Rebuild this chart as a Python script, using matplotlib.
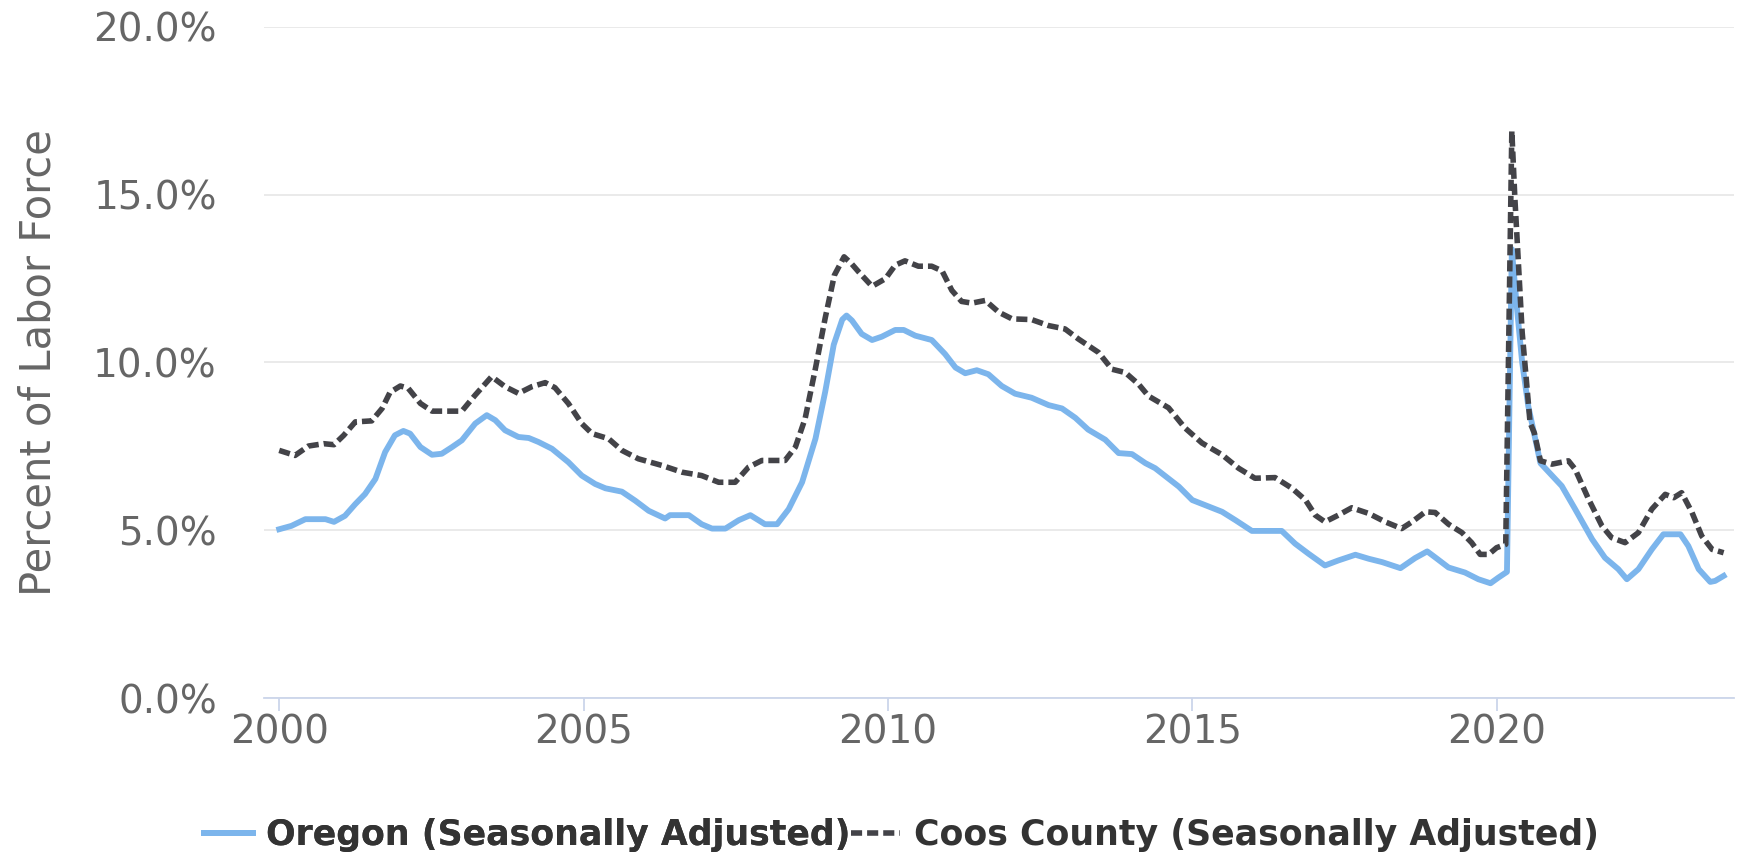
import numpy as np
import matplotlib.pyplot as plt
from matplotlib.ticker import FuncFormatter

# Oregon (seasonally adjusted)
or_year = [2000.0, 2000.2, 2000.43, 2000.76, 2000.9, 2001.08, 2001.25, 2001.41, 2001.58, 2001.74,
           2001.9, 2002.04, 2002.15, 2002.32, 2002.51, 2002.67, 2002.84, 2003.0, 2003.22, 2003.41,
           2003.55, 2003.71, 2003.93, 2004.1, 2004.26, 2004.48, 2004.75, 2004.97, 2005.19, 2005.36,
           2005.63, 2005.85, 2006.07, 2006.34, 2006.42, 2006.73, 2006.94, 2007.11, 2007.33, 2007.55,
           2007.74, 2007.98, 2008.18, 2008.37, 2008.59, 2008.81, 2008.97, 2009.11, 2009.25, 2009.32,
           2009.41, 2009.57, 2009.74, 2009.9, 2010.12, 2010.26, 2010.45, 2010.72, 2010.94, 2011.11,
           2011.27, 2011.46, 2011.65, 2011.87, 2012.09, 2012.36, 2012.64, 2012.86, 2013.08, 2013.29,
           2013.57, 2013.79, 2014.01, 2014.23, 2014.39, 2014.78, 2015.0, 2015.21, 2015.49, 2015.71,
           2015.98, 2016.47, 2016.69, 2016.91, 2017.18, 2017.4, 2017.68, 2017.9, 2018.12, 2018.42,
           2018.66, 2018.86, 2019.0, 2019.21, 2019.48, 2019.7, 2019.9, 2020.03, 2020.17, 2020.25,
           2020.33, 2020.42, 2020.52, 2020.72, 2021.07, 2021.29, 2021.57, 2021.78, 2022.0, 2022.14,
           2022.33, 2022.55, 2022.74, 2023.02, 2023.15, 2023.32, 2023.51, 2023.59, 2023.73]
or_rate = [5.03, 5.13, 5.33, 5.33, 5.25, 5.43, 5.78, 6.08, 6.53, 7.33,
           7.83, 7.96, 7.88, 7.48, 7.25, 7.28, 7.48, 7.68, 8.18, 8.43,
           8.28, 7.98, 7.78, 7.75, 7.63, 7.43, 7.03, 6.63, 6.38, 6.25,
           6.15, 5.88, 5.58, 5.35, 5.45, 5.45, 5.18, 5.05, 5.05, 5.3,
           5.45, 5.18, 5.18, 5.63, 6.43, 7.73, 9.13, 10.53, 11.28, 11.4,
           11.25, 10.85, 10.67, 10.77, 10.97, 10.97, 10.8, 10.67, 10.25, 9.85,
           9.68, 9.77, 9.65, 9.3, 9.07, 8.95, 8.73, 8.63, 8.35, 8.0,
           7.7, 7.3, 7.27, 7.0, 6.85, 6.3, 5.9, 5.75, 5.55, 5.3,
           4.98, 4.98, 4.6, 4.3, 3.95, 4.1, 4.27, 4.15, 4.05, 3.87,
           4.17, 4.37, 4.18, 3.89, 3.74, 3.54, 3.42, 3.59, 3.76, 13.38,
           11.7, 10.0, 8.7, 7.0, 6.32, 5.63, 4.73, 4.18, 3.84, 3.54,
           3.84, 4.43, 4.88, 4.88, 4.53, 3.84, 3.46, 3.49, 3.64]

# Coos County (seasonally adjusted)
coos_year = [2000.0, 2000.26, 2000.48, 2000.73, 2000.9, 2001.06, 2001.25, 2001.52, 2001.69, 2001.82,
             2001.99, 2002.12, 2002.32, 2002.51, 2003.0, 2003.22, 2003.49, 2003.71, 2003.93, 2004.15,
             2004.37, 2004.53, 2004.75, 2004.97, 2005.14, 2005.41, 2005.63, 2005.9, 2006.29, 2006.62,
             2006.94, 2007.22, 2007.49, 2007.71, 2007.93, 2008.31, 2008.48, 2008.64, 2008.81, 2008.97,
             2009.12, 2009.28, 2009.4, 2009.52, 2009.74, 2009.96, 2010.12, 2010.28, 2010.5, 2010.72,
             2010.89, 2011.05, 2011.21, 2011.38, 2011.6, 2011.82, 2012.04, 2012.36, 2012.64, 2012.91,
             2013.13, 2013.46, 2013.68, 2013.9, 2014.12, 2014.28, 2014.61, 2014.88, 2015.16, 2015.49,
             2015.76, 2016.03, 2016.36, 2016.64, 2016.86, 2017.02, 2017.18, 2017.4, 2017.62, 2017.9,
             2018.17, 2018.44, 2018.61, 2018.83, 2018.99, 2019.21, 2019.43, 2019.59, 2019.73, 2019.87,
             2020.0, 2020.15, 2020.25, 2020.3, 2020.42, 2020.55, 2020.62, 2020.72, 2020.91, 2021.18,
             2021.29, 2021.51, 2021.73, 2021.89, 2022.11, 2022.33, 2022.55, 2022.77, 2022.91, 2023.04,
             2023.21, 2023.37, 2023.54, 2023.73]
coos_rate = [7.38, 7.23, 7.51, 7.58, 7.55, 7.83, 8.23, 8.26, 8.63, 9.11,
             9.3, 9.23, 8.78, 8.55, 8.55, 9.03, 9.58, 9.28, 9.08, 9.28,
             9.4, 9.25, 8.78, 8.18, 7.88, 7.73, 7.38, 7.13, 6.93, 6.73,
             6.63, 6.43, 6.43, 6.88, 7.08, 7.08, 7.48, 8.33, 9.83, 11.33,
             12.6, 13.15, 12.95, 12.7, 12.27, 12.5, 12.9, 13.03, 12.87, 12.87,
             12.73, 12.15, 11.82, 11.77, 11.85, 11.5, 11.3, 11.28, 11.1, 11.0,
             10.7, 10.3, 9.8, 9.7, 9.35, 9.0, 8.65, 8.05, 7.6, 7.25,
             6.85, 6.55, 6.57, 6.25, 5.9, 5.45, 5.25, 5.45, 5.67, 5.5,
             5.25, 5.05, 5.25, 5.55, 5.53, 5.18, 4.93, 4.63, 4.28, 4.28,
             4.48, 4.58, 16.9, 14.9, 10.9, 8.2, 7.9, 7.07, 6.97, 7.07,
             6.82, 5.93, 5.13, 4.78, 4.63, 4.93, 5.63, 6.07, 5.97, 6.12,
             5.53, 4.83, 4.43, 4.33]

year_ticks = [2000, 2005, 2010, 2015, 2020]
pct_ticks = [0, 5, 10, 15, 20]

fig = plt.figure(figsize=(17.48, 8.59), dpi=100)
ax = fig.add_axes([264/1748, 1-698/859, (1734-264)/1748, (698-27)/859])

l_or, = ax.plot(or_year, or_rate, color='#7cb5ec', lw=4.2, solid_joinstyle='round',
                label='Oregon (Seasonally Adjusted)', zorder=3)
l_coos, = ax.plot(coos_year, coos_rate, color='#434348', lw=4.0, ls=(0, (2.0, 0.9)),
                  label='Coos County (Seasonally Adjusted)', zorder=4)

ax.set_xlim(1999.75, 2023.9)
ax.set_ylim(0, 20)
ax.set_xticks(year_ticks)
ax.set_yticks(pct_ticks)
ax.yaxis.set_major_formatter(FuncFormatter(lambda v, p: '{:.1f}%'.format(v)))
ax.grid(axis='y', color='#e6e6e6', lw=1.2)
ax.set_axisbelow(True)
for s in ['top', 'right', 'left']:
    ax.spines[s].set_visible(False)
ax.spines['bottom'].set_color('#ccd6eb')
ax.spines['bottom'].set_linewidth(1.3)
ax.tick_params(axis='y', length=0, pad=34, labelsize=28, labelcolor='#666666')
ax.tick_params(axis='x', length=9, width=1.3, color='#ccd6eb', pad=2,
               labelsize=28, labelcolor='#666666')
ax.set_ylabel('Percent of Labor Force', fontsize=30, color='#666666', labelpad=24)

lfont = {'weight': 'bold', 'size': 25}
leg1 = fig.legend(handles=[l_or], loc='center left', bbox_to_anchor=(204/1748, 1-835/859),
                  frameon=False, prop=lfont, labelcolor='#333333', borderpad=0,
                  borderaxespad=0, handlelength=1.4, handletextpad=0.4)
fig.legend(handles=[l_coos], loc='center left', bbox_to_anchor=(851/1748, 1-835/859),
           frameon=False, prop=lfont, labelcolor='#333333', borderpad=0,
           borderaxespad=0, handlelength=1.4, handletextpad=0.4)
fig.add_artist(leg1)

plt.savefig('out.png', dpi=100)
